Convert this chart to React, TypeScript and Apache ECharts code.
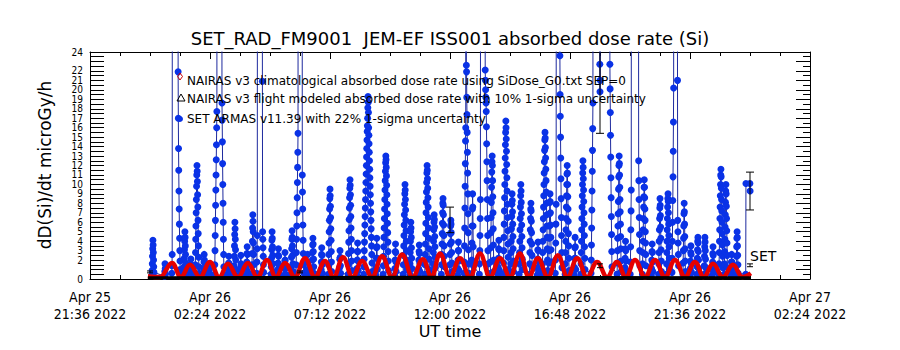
import React, { useEffect, useRef } from "react";
import * as echarts from "echarts";

// time axis: minutes since 2022-04-25 21:36 UT
const xTickLabels = [
  "Apr 25\n21:36 2022",
  "Apr 26\n02:24 2022",
  "Apr 26\n07:12 2022",
  "Apr 26\n12:00 2022",
  "Apr 26\n16:48 2022",
  "Apr 26\n21:36 2022",
  "Apr 27\n02:24 2022",
];
const yTickValues = [0, 24];

const titleText = "SET_RAD_FM9001  JEM-EF ISS001 absorbed dose rate (Si)";
const yTitle = "dD(Si)/dt microGy/h";
const xTitle = "UT time";
const legendLines = [
  "NAIRAS v3 climatological absorbed dose rate using SiDose_G0.txt SEP=0",
  "NAIRAS v3 flight modeled absorbed dose rate with 10% 1-sigma uncertainty",
  "SET ARMAS v11.39 with 22% 1-sigma uncertainty",
];

// SET ARMAS passes: [center minute, values sampled every 0.5 min]
const blueStep = 0.5;
const bluePasses: [number, number[]][] = [
  [151, [0.4, 0.9, 1.6, 2.4, 3.2, 4.1, 3.6, 2.8, 2.0, 1.3, 0.7]],
  [180, [0.3, 0.8, 1.6, 1.1, 0.5]],
  [197, [0.6, 1.4, 2.6, 60]],
  [214, [60, 21.9, 17.0, 13.8, 11.5, 9.3, 7.4, 5.8, 4.3, 3.0, 1.9, 1.0, 0.5]],
  [228, [0.5, 1.3, 2.2, 3.1, 4.0, 5.0, 4.4, 3.5, 2.6, 1.7, 0.9, 0.4]],
  [242, [0.4, 0.9, 1.5, 2.1, 1.4, 0.8, 0.4]],
  [257, [0.5, 1.5, 2.8, 4.2, 5.6, 7.0, 8.4, 9.8, 11.0, 12.0, 11.4, 10.3, 8.9, 7.6, 6.2, 4.8, 3.5, 2.3, 1.3, 0.6]],
  [274, [0.4, 1.0, 1.8, 2.6, 2.0, 1.2, 0.6]],
  [286, [0.4, 0.9, 1.6, 1.0, 0.5]],
  [302, [0.5, 1.5, 3.0, 4.6, 6.2, 7.8, 9.4, 11.0, 12.6, 14.2, 16.0, 17.7, 60]],
  [319, [60, 18.6, 16.8, 14.5, 12.2, 10.0, 8.0, 6.0, 4.2, 2.6, 1.3, 0.5]],
  [333, [0.4, 1.0, 1.7, 2.4, 1.6, 0.8]],
  [348, [0.5, 1.4, 2.4, 3.5, 4.7, 6.0, 5.3, 4.2, 3.1, 2.0, 1.0, 0.4]],
  [362, [0.4, 1.2, 2.5, 1.6, 0.7]],
  [377, [0.4, 1.0, 1.8, 2.7, 3.4, 2.6, 1.6, 0.7]],
  [391, [0.5, 1.5, 2.7, 4.0, 5.4, 6.8, 6.1, 5.0, 3.8, 2.6, 1.5, 0.6]],
  [401, [0.6, 1.8, 3.2, 4.6, 60]],
  [415, [60, 20.9, 5.0, 4.2, 3.3, 2.4, 1.5, 0.7]],
  [437, [0.5, 1.3, 2.2, 3.1, 4.1, 5.0, 4.3, 3.4, 2.5, 1.6, 0.8]],
  [452, [0.4, 1.0, 1.7, 2.5, 3.2, 2.4, 1.5, 0.7]],
  [468, [0.4, 1.1, 1.9, 2.8, 2.0, 1.1, 0.5]],
  [485, [0.5, 1.3, 2.3, 3.2, 4.2, 5.1, 4.4, 3.5, 2.5, 1.6, 0.8]],
  [497, [0.5, 1.5, 2.8, 4.2, 5.6, 7.0, 8.6, 10.2, 11.8, 13.4, 15.4, 60]],
  [511, [60, 11.0, 9.2, 7.4, 5.7, 4.1, 2.7, 1.5, 0.6]],
  [522, [0.4, 1.0, 1.8, 2.6, 1.8, 0.9]],
  [535, [0.4, 1.1, 2.0, 2.8, 3.6, 4.3, 3.7, 2.9, 2.1, 1.3, 0.6]],
  [556, [0.4, 1.0, 1.8, 2.6, 3.3, 2.5, 1.5, 0.6]],
  [576, [0.5, 1.5, 2.6, 3.8, 5.0, 6.2, 7.4, 8.5, 9.5, 8.8, 7.7, 6.5, 5.3, 4.1, 2.9, 1.8, 0.8]],
  [600, [0.4, 1.2, 2.1, 3.0, 2.3, 1.4, 0.6]],
  [624, [0.5, 1.5, 2.7, 3.9, 5.1, 6.3, 7.5, 8.6, 9.6, 10.5, 9.9, 8.9, 7.8, 6.6, 5.4, 4.2, 3.0, 1.9, 0.9]],
  [642, [0.4, 1.1, 2.0, 2.9, 3.8, 2.9, 1.9, 0.9]],
  [667, [0.5, 1.3, 2.1, 3.0, 3.9, 4.8, 5.7, 6.6, 7.5, 8.4, 9.3, 10.2, 11.1, 12.0, 12.9, 13.8, 14.7, 15.6, 16.2, 17.0, 18.1, 19.3, 18.7, 17.6, 16.0, 15.2, 14.3, 13.4, 12.5, 11.6, 10.7, 9.8, 8.9, 8.0, 7.1, 6.2, 5.3, 4.4, 3.5, 2.6, 1.7, 0.8]],
  [688, [0.4, 1.2, 2.2, 3.3, 4.3, 3.4, 2.2, 1.0]],
  [710, [0.5, 1.4, 2.4, 3.4, 4.4, 5.4, 6.4, 7.4, 8.4, 9.4, 10.4, 11.4, 12.3, 13.0, 12.6, 11.8, 10.9, 9.9, 8.9, 7.9, 6.9, 5.9, 4.9, 3.9, 2.9, 1.9, 0.9]],
  [733, [0.4, 1.1, 2.0, 2.9, 3.7, 2.8, 1.8, 0.8]],
  [756, [0.5, 1.5, 2.5, 3.5, 4.6, 5.7, 6.8, 7.9, 9.0, 10.0, 9.4, 8.4, 7.3, 6.2, 5.1, 4.0, 3.0, 2.0, 1.0]],
  [770, [0.5, 1.6, 2.8, 4.0, 5.0, 6.0, 5.4, 4.4, 3.3, 2.2, 1.1]],
  [790, [0.4, 1.1, 2.0, 2.9, 3.6, 2.7, 1.7, 0.8]],
  [809, [0.5, 1.5, 2.6, 3.7, 4.8, 5.9, 7.0, 8.1, 9.2, 10.2, 11.2, 12.0, 11.5, 10.6, 9.6, 8.6, 7.6, 6.5, 5.4, 4.3, 3.2, 2.1, 1.0]],
  [826, [0.5, 1.6, 2.8, 4.0, 5.2, 6.0, 6.8, 6.3, 5.5, 4.5, 3.4, 2.3, 1.2]],
  [847, [0.5, 1.5, 2.6, 3.7, 4.8, 5.9, 7.0, 8.0, 8.5, 7.8, 6.8, 5.7, 4.6, 3.5, 2.4, 1.3]],
  [866, [0.5, 1.5, 2.6, 3.7, 4.8, 5.6, 6.2, 5.8, 4.9, 3.9, 2.8, 1.7, 0.8]],
  [884, [0.4, 1.1, 2.0, 3.0, 3.9, 3.0, 1.9, 0.9]],
  [900, [0.6, 1.8, 3.5, 5.4, 7.5, 9.8, 12.2, 14.6, 16.0, 60]],
  [906, [60, 22.6, 21.9, 19.2, 17.4, 15.5, 13.4, 11.2, 9.0, 6.9, 4.9, 3.1, 1.6, 0.6]],
  [918, [0.5, 2.0, 3.8, 5.6, 7.4, 9.0, 7.6, 5.6, 3.4, 1.4]],
  [936, [0.5, 1.6, 3.0, 4.6, 6.4, 8.4, 60]],
  [952, [60, 22.1, 21.0, 20.0, 19.2, 18.6, 17.7, 16.1, 14.3, 12.4, 10.4, 8.4, 6.4, 4.6, 3.0, 1.6, 0.6]],
  [965, [0.5, 1.8, 3.3, 4.9, 6.5, 8.1, 9.7, 11.3, 12.4, 13.0, 12.0, 10.4, 8.7, 7.0, 5.3, 3.6, 2.0, 0.8]],
  [981, [0.4, 1.2, 2.2, 3.2, 4.1, 3.1, 2.0, 0.9]],
  [998, [0.5, 1.7, 3.0, 4.4, 5.8, 7.2, 8.6, 10.0, 11.4, 12.8, 14.2, 15.5, 16.7, 16.0, 14.8, 13.5, 12.1, 10.7, 9.3, 7.9, 6.5, 5.1, 3.7, 2.3, 1.0]],
  [1013, [0.5, 1.6, 2.8, 4.0, 5.3, 6.6, 7.9, 9.0, 8.3, 7.1, 5.8, 4.5, 3.2, 1.9, 0.8]],
  [1034, [0.5, 1.6, 2.8, 4.0, 5.2, 6.4, 7.6, 8.8, 10.0, 9.3, 8.1, 6.9, 5.7, 4.5, 3.3, 2.1, 1.0]],
  [1058, [0.5, 1.6, 2.8, 4.0, 5.2, 6.4, 7.4, 8.0, 7.2, 6.1, 4.9, 3.7, 2.5, 1.3]],
  [1075, [0.4, 1.2, 2.1, 3.1, 3.9, 3.0, 1.9, 0.9]],
  [1092, [0.5, 1.6, 2.8, 4.0, 5.2, 6.4, 7.6, 8.8, 10.0, 11.2, 12.4, 13.6, 14.7, 15.5, 14.9, 13.9, 12.8, 11.6, 10.4, 9.2, 8.0, 6.8, 5.6, 4.4, 3.2, 2.0, 0.9]],
  [1104, [0.5, 1.7, 3.0, 4.3, 5.6, 6.9, 8.1, 9.0, 8.2, 7.0, 5.7, 4.4, 3.1, 1.8, 0.8]],
  [1118, [0.6, 2.0, 3.8, 5.8, 7.9, 60]],
  [1130, [60, 23.6, 19.5, 17.2, 15.0, 12.8, 10.6, 8.5, 6.5, 4.6, 2.8, 1.2]],
  [1145, [0.5, 1.6, 2.8, 4.0, 5.2, 6.4, 7.6, 8.8, 10.0, 11.1, 12.0, 11.2, 10.0, 8.7, 7.4, 6.1, 4.8, 3.5, 2.2, 0.9]],
  [1164, [0.4, 1.2, 2.2, 3.3, 4.4, 3.4, 2.2, 1.0]],
  [1183, [0.5, 1.6, 2.8, 4.0, 5.2, 6.4, 7.6, 8.8, 10.0, 11.2, 12.5, 11.8, 10.6, 9.4, 8.2, 7.0, 5.8, 4.6, 3.4, 2.2, 1.0]],
  [1205, [0.6, 2.0, 3.6, 5.4, 7.3, 9.3, 11.4, 13.6, 15.9, 18.6, 60]],
  [1224, [60, 22.7, 19.8, 21.0, 60]],
  [1250, [60, 22.7, 20.1, 17.6, 15.2, 12.9, 10.7, 8.6, 6.6, 4.7, 2.9, 1.3]],
  [1270, [0.5, 1.7, 3.0, 4.3, 5.6, 6.9, 8.2, 9.5, 10.8, 12.0, 13.0, 12.2, 11.0, 9.7, 8.4, 7.1, 5.8, 4.5, 3.2, 1.9, 0.8]],
  [1285, [0.4, 1.2, 2.2, 3.2, 4.0, 3.0, 1.9, 0.9]],
  [1298, [0.5, 1.8, 3.4, 5.2, 7.2, 9.4, 60]],
  [1318, [60, 12.5, 10.4, 8.4, 6.5, 4.7, 3.0, 1.4]],
  [1330, [0.5, 1.6, 2.8, 4.0, 5.2, 6.4, 7.6, 8.7, 9.7, 10.5, 9.7, 8.6, 7.4, 6.2, 5.0, 3.8, 2.6, 1.4]],
  [1349, [0.4, 1.1, 2.0, 2.9, 3.7, 2.8, 1.8, 0.8]],
  [1368, [0.5, 1.6, 2.8, 4.0, 5.2, 6.4, 7.5, 8.5, 7.8, 6.7, 5.5, 4.3, 3.1, 1.9, 0.8]],
  [1387, [0.5, 1.6, 2.8, 4.0, 5.2, 6.4, 7.6, 8.5, 9.0, 8.2, 7.0, 5.8, 4.6, 3.4, 2.2, 1.0]],
  [1399, [0.7, 2.2, 4.0, 6.0, 8.3, 10.8, 13.5, 16.6, 20.2, 60]],
  [1411, [60, 21.0, 6.2, 5.0, 3.8, 2.6, 1.4]],
  [1426, [0.5, 1.7, 3.0, 4.3, 5.6, 6.9, 8.0, 7.1, 5.8, 4.5, 3.2, 1.9, 0.8]],
  [1442, [0.4, 1.1, 1.9, 2.8, 3.5, 2.6, 1.6, 0.7]],
  [1459, [0.5, 1.3, 2.2, 3.1, 4.0, 4.4, 3.8, 2.9, 2.0, 1.1, 0.5]],
  [1476, [0.5, 1.4, 2.4, 3.4, 4.4, 3.9, 3.0, 2.1, 1.2, 0.5]],
  [1495, [0.4, 1.0, 1.8, 2.7, 3.4, 2.5, 1.5, 0.7]],
  [1514, [0.5, 1.6, 2.8, 4.0, 5.2, 6.4, 7.6, 8.8, 10.0, 11.0, 11.6, 10.8, 9.6, 8.4, 7.2, 6.0, 4.8, 3.6, 2.4, 1.2]],
  [1526, [0.5, 1.6, 2.9, 4.2, 5.5, 6.8, 8.1, 9.3, 10.0, 9.0, 7.7, 6.4, 5.1, 3.8, 2.5, 1.2]],
  [1540, [0.4, 1.0, 1.8, 2.6, 1.8, 1.0, 0.5]],
  [1553, [0.5, 1.4, 2.4, 3.4, 4.3, 5.0, 4.4, 3.5, 2.5, 1.5, 0.6]],
  [1574, [0.5, 10.1]],
  [1584, [10.1, 9.3]],
];

// NAIRAS climatological (minute, microGy/h)
const redData: [number, number][] = [
  [139, 0.3], [168, 0.2], [197, 1.7], [218, 0.2], [240, 1.5], [264, 0.2], [288, 1.8], [310, 0.2],
  [331, 1.6], [355, 0.2], [379, 1.7], [402, 0.2], [425, 2.0], [446, 0.2], [468, 1.7], [492, 0.2],
  [516, 2.2], [540, 0.2], [564, 1.9], [585, 0.2], [607, 2.3], [630, 0.2], [653, 1.9], [677, 0.2],
  [701, 2.4], [725, 0.2], [749, 2.6], [774, 0.2], [799, 2.1], [820, 0.2], [840, 2.7], [864, 0.2],
  [888, 2.2], [912, 0.2], [936, 2.7], [960, 0.2], [984, 2.2], [1008, 0.2], [1032, 2.7], [1053, 0.2],
  [1075, 2.2], [1099, 0.2], [1123, 2.5], [1146, 0.2], [1169, 2.2], [1193, 0.2], [1217, 1.8], [1241, 0.2],
  [1265, 1.8], [1286, 0.2], [1308, 2.0], [1332, 0.2], [1356, 2.0], [1380, 0.2], [1404, 2.0], [1428, 0.2],
  [1452, 1.8], [1473, 0.2], [1495, 1.6], [1519, 0.2], [1543, 1.5], [1566, 0.2], [1586, 0.6],
];

// NAIRAS flight modeled
const blackData: [number, number][] = [
  [139, 0.12], [400, 0.15], [800, 0.18], [1200, 0.16], [1586, 0.12],
];

// error bars: [minute, low, high]
const blueErr: [number, number, number][] = [
  [864, 4.9, 7.6],
  [1224, 15.4, 30],
  [1584, 7.3, 11.3],
];
const blackErr: [number, number, number][] = [
  [144, 0.65, 0.85],
  [504, 0.65, 0.85],
  [1224, 1.2, 1.6],
  [1584, 1.3, 1.6],
];

const FONT = '"DejaVu Sans", "Liberation Sans", sans-serif';
const FONT_AX = '"DejaVu Sans Condensed", "Liberation Sans Narrow", "DejaVu Sans", sans-serif';

function buildBlue(): [number, number][] {
  const out: [number, number][] = [];
  for (const [c, vals] of bluePasses) {
    const n = vals.length;
    vals.forEach((v, i) => out.push([c + (i - (n - 1) / 2) * blueStep, v]));
  }
  return out;
}

function errRender(color: string, half: number) {
  return (params: any, api: any) => {
    const x = api.value(0);
    const lo = api.coord([x, api.value(1)]);
    const hi = api.coord([x, api.value(2)]);
    const style = { stroke: color, lineWidth: 1 };
    return {
      type: "group",
      children: [
        { type: "line", shape: { x1: lo[0], y1: lo[1], x2: hi[0], y2: hi[1] }, style },
        { type: "line", shape: { x1: lo[0] - half, y1: lo[1], x2: lo[0] + half, y2: lo[1] }, style },
        { type: "line", shape: { x1: hi[0] - half, y1: hi[1], x2: hi[0] + half, y2: hi[1] }, style },
      ],
    };
  };
}

export default function App() {
  const ref = useRef<HTMLDivElement>(null);
  useEffect(() => {
    if (!ref.current) return;
    const chart = echarts.init(ref.current, undefined, { renderer: "svg" });
    const axisCommonX = {
      type: "value",
      min: 0,
      max: 1728,
      interval: 288,
      splitLine: { show: false },
      axisLine: { show: true, onZero: false, lineStyle: { color: "#000", width: 1 } },
      axisTick: { show: true, inside: true, length: 7, lineStyle: { color: "#000" } },
      minorTick: { show: true, splitNumber: 4, length: 4, lineStyle: { color: "#000" } },
    };
    const axisCommonY = {
      type: "value",
      min: yTickValues[0],
      max: yTickValues[1],
      interval: 1,
      splitLine: { show: false },
      axisLine: { show: true, onZero: false, lineStyle: { color: "#000", width: 1 } },
      axisTick: { show: true, inside: true, length: 14, lineStyle: { color: "#000" } },
    };
    const option: any = {
      animation: false,
      backgroundColor: "#fff",
      grid: { left: 90, top: 52, width: 720, height: 227 },
      xAxis: [
        {
          ...axisCommonX,
          position: "bottom",
          axisLabel: {
            color: "#000",
            fontFamily: FONT_AX,
            fontSize: 14,
            lineHeight: 17,
            margin: 9,
            showMinLabel: true,
            showMaxLabel: true,
            formatter: (v: number) => xTickLabels[Math.round(v / 288)] ?? "",
          },
        },
        { ...axisCommonX, position: "top", axisLabel: { show: false } },
      ],
      yAxis: [
        {
          ...axisCommonY,
          position: "left",
          minorTick: { show: true, splitNumber: 2, length: 14, lineStyle: { color: "#000" } },
          axisLabel: {
            color: "#000",
            fontFamily: FONT_AX,
            fontSize: 10,
            lineHeight: 10,
            margin: 7,
            showMinLabel: true,
            showMaxLabel: true,
            hideOverlap: false,
          },
        },
        {
          ...axisCommonY,
          position: "right",
          minorTick: { show: true, splitNumber: 2, length: 7, lineStyle: { color: "#000" } },
          axisLabel: { show: false },
        },
      ],
      series: [
        {
          type: "line",
          data: buildBlue(),
          symbol: "circle",
          symbolSize: 7,
          showAllSymbol: true,
          itemStyle: { color: "#0a32e6" },
          lineStyle: { color: "#1e2a9e", width: 1 },
          clip: true,
          z: 2,
        },
        {
          type: "line",
          data: redData,
          smooth: 0.4,
          smoothMonotone: "x",
          showSymbol: false,
          lineStyle: { color: "#e60000", width: 4.5 },
          clip: true,
          z: 3,
        },
        {
          type: "line",
          data: blackData,
          showSymbol: false,
          lineStyle: { color: "#000", width: 3 },
          clip: true,
          z: 4,
        },
        {
          type: "custom",
          data: blueErr,
          encode: { x: 0, y: [1, 2] },
          renderItem: errRender("#000", 4),
          clip: true,
          z: 5,
        },
        {
          type: "custom",
          data: blackErr,
          encode: { x: 0, y: [1, 2] },
          renderItem: errRender("#000", 3),
          clip: true,
          z: 5,
        },
      ],
      graphic: [
        {
          type: "text",
          x: 450,
          y: 38,
          style: { text: titleText, fill: "#000", fontSize: 18, fontFamily: FONT, align: "center", verticalAlign: "middle", textAlign: "center", textVerticalAlign: "middle" },
        },
        {
          type: "text",
          x: 45,
          y: 165,
          rotation: Math.PI / 2,
          style: { text: yTitle, fill: "#000", fontSize: 17, fontFamily: FONT, align: "center", verticalAlign: "middle", textAlign: "center", textVerticalAlign: "middle" },
        },
        {
          type: "text",
          x: 450,
          y: 331,
          style: { text: xTitle, fill: "#000", fontSize: 16, fontFamily: FONT, align: "center", verticalAlign: "middle", textAlign: "center", textVerticalAlign: "middle" },
        },
        ...legendLines.map((t, i) => ({
          type: "text",
          x: 187,
          y: [81, 99, 119][i],
          z: 10,
          style: { text: t, fill: "#000", fontSize: 12, fontFamily: FONT, align: "left", verticalAlign: "middle", textAlign: "left", textVerticalAlign: "middle" },
        })),
        {
          type: "polygon",
          z: 10,
          shape: { points: [[180, 73], [182.5, 76.5], [180, 80], [177.5, 76.5]] },
          style: { fill: "none", stroke: "#d00000", lineWidth: 1 },
        },
        {
          type: "polygon",
          z: 10,
          shape: { points: [[181, 94], [185, 101], [177, 101]] },
          style: { fill: "none", stroke: "#000", lineWidth: 1 },
        },
        {
          type: "circle",
          z: 10,
          shape: { cx: 180, cy: 119, r: 3 },
          style: { fill: "#0a32e6" },
        },
        {
          type: "text",
          x: 750,
          y: 256,
          z: 10,
          style: { text: "SET", fill: "#000", fontSize: 14, fontFamily: FONT, align: "left", verticalAlign: "middle", textAlign: "left", textVerticalAlign: "middle" },
        },
      ],
    };
    chart.setOption(option);
    return () => chart.dispose();
  }, []);
  return (
    <div
      ref={ref}
      style={{ position: "absolute", left: 0, top: 0, width: 900, height: 350, background: "#fff" }}
    />
  );
}
